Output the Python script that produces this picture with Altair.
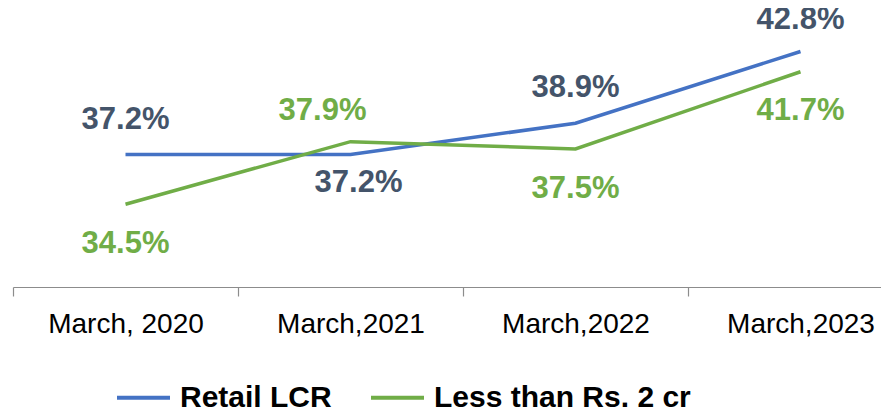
import json
import altair as alt
import pandas as pd

categories = ["March, 2020", "March,2021", "March,2022", "March,2023"]
retail_lcr = [37.2, 37.2, 38.9, 42.8]
less_than_2cr = [34.5, 37.9, 37.5, 41.7]
series_names = ["Retail LCR", "Less than Rs. 2 cr"]
line_colors = ["#4472C4", "#70AD47"]
label_colors = ["#44546A", "#70AD47"]
tick_positions = [-0.5, 0.5, 1.5, 2.5]

rows = []
for i, c in enumerate(categories):
    rows.append({"idx": i, "category": c, "series": series_names[0], "value": retail_lcr[i]})
    rows.append({"idx": i, "category": c, "series": series_names[1], "value": less_than_2cr[i]})
df = pd.DataFrame(rows)

FONT = "Liberation Sans"
W, H = 868, 276
band = 225.0
xmax = -0.5 + W / band

label_expr = json.dumps(categories) + "[round(datum.value + 0.5)]"

x_enc = alt.X(
    "idx:Q",
    scale=alt.Scale(domain=[-0.5, xmax], nice=False, zero=False),
    axis=alt.Axis(
        values=tick_positions,
        labelExpr=label_expr,
        labelOffset=band / 2,
        labelFlush=False,
        labelOverlap=False,
        title=None,
        grid=False,
        domainColor="#8C8C8C",
        domainWidth=1.2,
        tickColor="#8C8C8C",
        tickWidth=1.2,
        tickSize=9,
        labelPadding=14,
        labelFont=FONT,
        labelFontSize=28,
        labelColor="#000000",
    ),
)
y_enc = alt.Y("value:Q", scale=alt.Scale(domain=[30, 45], nice=False, zero=False), axis=None)

base = alt.Chart(df)

lines = base.mark_line(strokeWidth=3.5).encode(
    x=x_enc,
    y=y_enc,
    color=alt.Color(
        "series:N",
        scale=alt.Scale(domain=series_names, range=line_colors),
        legend=alt.Legend(
            title=None,
            orient="none",
            legendX=102,
            legendY=358,
            direction="horizontal",
            symbolType="stroke",
            symbolSize=2809,
            symbolStrokeWidth=4,
            labelFont=FONT,
            labelFontSize=30,
            labelFontWeight="bold",
            labelColor="#000000",
            labelOffset=8,
            columnPadding=31,
            labelLimit=600,
            padding=0,
        ),
    ),
    detail="series:N",
)

text_base = base.transform_calculate(
    label="format(datum.value, '.1f') + '%'"
).transform_joinaggregate(maxv="max(value)", groupby=["idx"])

text_color = alt.condition(
    alt.datum.series == series_names[0], alt.value(label_colors[0]), alt.value(label_colors[1])
)


def text_layer(flt, dx, dy):
    return text_base.transform_filter(flt).mark_text(
        font=FONT, fontSize=31, fontWeight="bold", baseline="middle", align="center", dx=dx, dy=dy
    ).encode(x=x_enc, y=y_enc, text="label:N", color=text_color)


above = text_layer("datum.value == datum.maxv && (datum.idx == 0 || datum.idx == 2)", 0, -35)
above_last = text_layer("datum.value == datum.maxv && datum.idx == 3", 0, -31.5)
below = text_layer("datum.value < datum.maxv && datum.idx != 1", 0, 39.5)
above_mid = text_layer("datum.value == datum.maxv && datum.idx == 1", -28, -30.5)
below_mid = text_layer("datum.value < datum.maxv && datum.idx == 1", 8, 28.5)

chart = alt.layer(lines, above, above_last, below, above_mid, below_mid).properties(
    width=W,
    height=H,
    autosize=alt.AutoSizeParams(type="none"),
    padding={"left": 5, "top": 3, "right": 0, "bottom": 121},
    background="#FFFFFF",
).configure_view(stroke=None)

chart.save("out.html", embed_options={"renderer": "svg", "actions": False})
